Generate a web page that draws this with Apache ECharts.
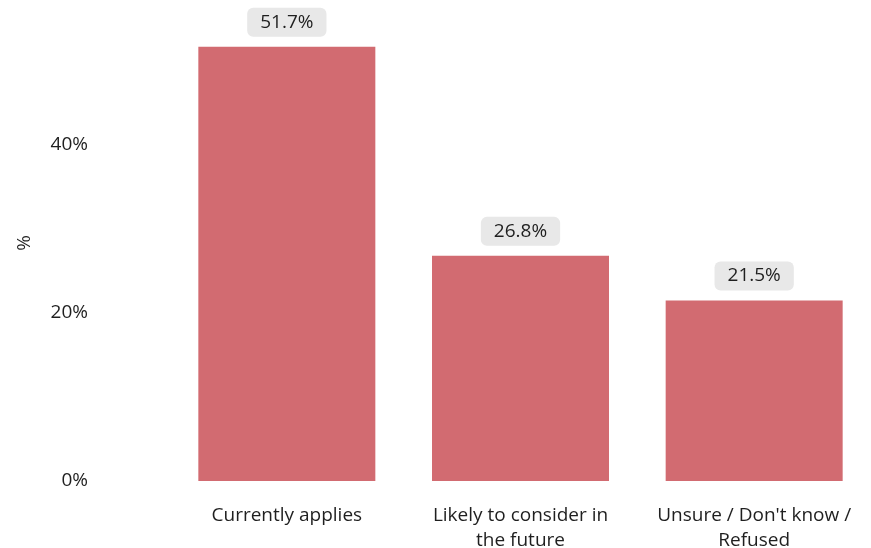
<!DOCTYPE html>
<html>
<head>
<meta charset="utf-8">
<script src="https://cdn.jsdelivr.net/npm/echarts@6/dist/echarts.min.js"></script>
<style>
  html, body { margin: 0; padding: 0; background: #fff; }
  #chart { width: 871px; height: 548px; }
</style>
</head>
<body>
<div id="chart"></div>
<script>
const categories = ['Currently applies', 'Likely to consider in\nthe future', 'Unsure / Don\'t know /\nRefused'];
const values = [51.7, 26.8, 21.5];
const yTicks = [0, 20, 40];

const FONT = '"Open Sans", "Noto Sans", sans-serif';
const chart = echarts.init(document.getElementById('chart'));
chart.setOption({
  animation: false,
  textStyle: { fontFamily: FONT },
  grid: { left: 170, right: 0, top: 46.7, bottom: 67, containLabel: false, outerBoundsMode: 'none' },
  xAxis: {
    type: 'category',
    data: categories,
    axisLine: { show: false },
    axisTick: { show: false },
    axisLabel: {
      interval: 0,
      margin: 22,
      fontSize: 19,
      lineHeight: 25,
      color: '#1f1f1f',
      fontFamily: FONT
    }
  },
  yAxis: {
    type: 'value',
    min: 0,
    max: Math.max(...values),
    interval: 20,
    name: '%',
    nameLocation: 'middle',
    nameGap: 136,
    nameTextStyle: { fontSize: 19, color: '#1f1f1f', fontFamily: FONT, padding: [0, 0, 0, 42] },
    splitLine: { show: false },
    axisLine: { show: false },
    axisTick: { show: false },
    axisLabel: {
      margin: 82,
      fontSize: 19,
      color: '#1f1f1f',
      fontFamily: FONT,
      showMaxLabel: false,
      formatter: v => (yTicks.includes(v) ? v + '%' : '')
    }
  },
  series: [{
    type: 'bar',
    data: values,
    barWidth: 177,
    itemStyle: { color: '#d26b71' },
    label: {
      show: true,
      position: 'top',
      distance: 10,
      formatter: p => p.value.toFixed(1) + '%',
      fontSize: 19,
      color: '#1f1f1f',
      fontFamily: FONT,
      backgroundColor: '#e8e8e8',
      borderRadius: 6,
      padding: [5, 13]
    }
  }]
});
</script>
</body>
</html>
